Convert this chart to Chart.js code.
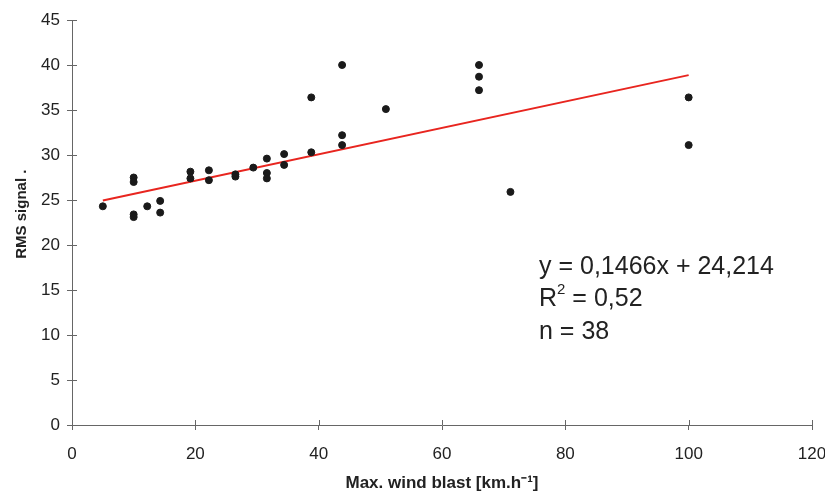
<!DOCTYPE html>
<html>
<head>
<meta charset="utf-8">
<script src="https://cdn.jsdelivr.net/npm/chart.js@4.4.1/dist/chart.umd.min.js"></script>
<style>
  html, body { margin: 0; padding: 0; background: #fff; }
</style>
</head>
<body>
<canvas id="rms_chart" width="825" height="494"></canvas>
<script>
// measured points (wind blast km/h, RMS signal)
var windX = [5, 10, 10, 10, 10, 12.2, 14.3, 14.3, 19.2, 19.2, 22.2, 22.2, 26.5, 26.5,
             29.4, 31.6, 31.6, 31.6, 34.4, 34.4, 38.8, 38.8, 43.8, 43.8, 43.8, 50.9,
             66, 66, 66, 71.1, 100, 100];
var rmsY  = [24.3, 27.5, 27.0, 23.4, 23.1, 24.3, 24.9, 23.6, 28.15, 27.4, 28.3, 27.2, 27.85, 27.6,
             28.6, 29.6, 28.0, 27.4, 30.1, 28.9, 36.4, 30.3, 40.0, 32.2, 31.1, 35.1,
             40.0, 38.7, 37.2, 25.9, 36.4, 31.1];

var slope = 0.1466, intercept = 24.214;
var trendX = [5, 100];
var xTicks = [0, 120, 20];   // min, max, step
var yTicks = [0, 45, 5];

var eqLines = ["y = 0,1466x + 24,214", "R2 = 0,52", "n = 38"];

var points = [];
for (var i = 0; i < windX.length; i++) {
    points.push({ x: windX[i], y: rmsY[i] });
}
var trend = trendX.map(function (x) { return { x: x, y: slope * x + intercept }; });

var FONT = '"Liberation Sans", Arial, sans-serif';

// ticks that cross the axis line + the equation text
var extras = {
    id: 'extras',
    afterDraw: function (chart) {
        var ctx = chart.ctx;
        var xs = chart.scales.x, ys = chart.scales.y;
        ctx.save();
        ctx.strokeStyle = '#666';
        ctx.lineWidth = 1;
        ctx.beginPath();
        for (var v = yTicks[0]; v <= yTicks[1]; v += yTicks[2]) {
            var py = Math.round(ys.getPixelForValue(v)) + 0.5;
            ctx.moveTo(xs.left, py);
            ctx.lineTo(xs.left + 5, py);
        }
        for (var u = xTicks[0]; u <= xTicks[1]; u += xTicks[2]) {
            var px = Math.round(xs.getPixelForValue(u)) + 0.5;
            ctx.moveTo(px, ys.bottom);
            ctx.lineTo(px, ys.bottom - 5);
        }
        ctx.stroke();

        ctx.fillStyle = '#222';
        ctx.font = '25px ' + FONT;
        ctx.textBaseline = 'middle';
        var tx = 539;
        ctx.fillText(eqLines[0], tx, 267);
        // R with superscript 2
        ctx.fillText('R', tx, 299);
        var rw = ctx.measureText('R').width;
        ctx.font = '15px ' + FONT;
        ctx.fillText('2', tx + rw, 290);
        var sw = ctx.measureText('2').width;
        ctx.font = '25px ' + FONT;
        ctx.fillText(eqLines[1].substring(2), tx + rw + sw, 299);
        ctx.fillText(eqLines[2], tx, 332);
        ctx.restore();
    }
};

new Chart(document.getElementById('rms_chart'), {
    type: 'scatter',
    data: {
        datasets: [{
            label: 'RMS',
            data: points,
            backgroundColor: '#1a1a1a',
            borderColor: '#1a1a1a',
            pointRadius: 3.5,
            pointHoverRadius: 3.5
        }, {
            label: 'trend',
            type: 'line',
            data: trend,
            borderColor: '#e8251f',
            borderWidth: 2,
            pointRadius: 0,
            fill: false
        }]
    },
    plugins: [extras],
    options: {
        responsive: false,
        animation: false,
        devicePixelRatio: 1,
        layout: { padding: { top: 20, right: 13, bottom: 0, left: 0 } },
        plugins: {
            legend: { display: false },
            tooltip: { enabled: false }
        },
        scales: {
            x: {
                type: 'linear',
                min: xTicks[0], max: xTicks[1],
                ticks: { stepSize: xTicks[2], color: '#222', padding: 14,
                         font: { family: FONT, size: 17 } },
                grid: { display: true, drawOnChartArea: false, tickLength: 5, color: '#666' },
                border: { color: '#666', width: 1 },
                title: { display: true, text: 'Max. wind blast [km.h\u207B\u00B9]', color: '#222',
                         padding: { top: 0, bottom: 0 },
                         font: { family: FONT, size: 17, weight: 'bold' } },
                afterFit: function (s) {
                    s.height = 69;
                    s.paddingLeft = 0;
                    s.paddingRight = 0;
                }
            },
            y: {
                min: yTicks[0], max: yTicks[1],
                ticks: { stepSize: yTicks[2], color: '#222', padding: 7,
                         font: { family: FONT, size: 17 } },
                grid: { display: true, drawOnChartArea: false, tickLength: 5, color: '#666' },
                border: { color: '#666', width: 1 },
                title: { display: true, text: '\u00A0\u00A0\u00A0\u00A0RMS signal .', color: '#222',
                         padding: { top: 13, bottom: 0 },
                         font: { family: FONT, size: 15, weight: 'bold' } },
                afterFit: function (s) {
                    s.width = 72;
                    s.paddingTop = 0;
                    s.paddingBottom = 0;
                }
            }
        }
    }
});
</script>
</body>
</html>
